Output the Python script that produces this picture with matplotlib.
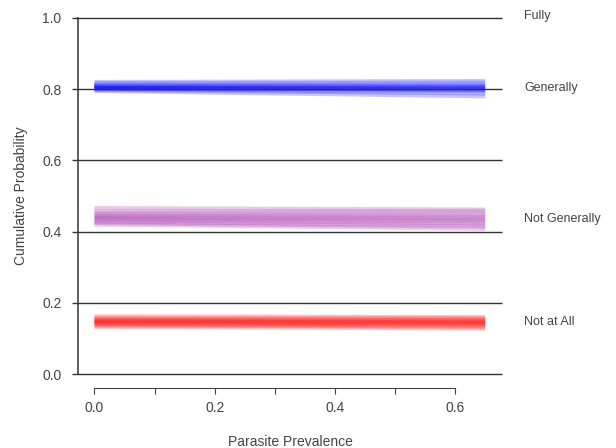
import matplotlib
matplotlib.use('Agg')
import matplotlib.pyplot as plt

plt.rcParams['font.family'] = ['Liberation Sans', 'DejaVu Sans']

# simulated posterior lines: cumulative probability at prevalence 0 and 0.65
x_range = [0.0, 0.65]
blue_start = [0.795, 0.798, 0.800, 0.802, 0.803, 0.804, 0.805, 0.806, 0.808, 0.810, 0.813, 0.817, 0.820]
blue_end = [0.780, 0.788, 0.794, 0.797, 0.799, 0.801, 0.803, 0.805, 0.807, 0.810, 0.813, 0.818, 0.823]
purple_start = [0.420, 0.424, 0.428, 0.432, 0.435, 0.438, 0.441, 0.444, 0.448, 0.452, 0.457, 0.466]
purple_end = [0.408, 0.414, 0.419, 0.424, 0.429, 0.433, 0.437, 0.441, 0.446, 0.451, 0.458, 0.462]
red_start = [0.133, 0.137, 0.140, 0.143, 0.145, 0.147, 0.149, 0.151, 0.153, 0.157, 0.162]
red_end = [0.128, 0.133, 0.137, 0.140, 0.143, 0.145, 0.147, 0.149, 0.152, 0.156, 0.160]

cut_levels = [0.0, 0.2, 0.4, 0.6, 0.8, 1.0]
category_labels = ['Fully', 'Generally', 'Not Generally', 'Not at All']
category_y = [1.005, 0.803, 0.435, 0.146]

fig = plt.figure(figsize=(6.16, 4.48), dpi=100)
ax = fig.add_axes([0.127, 0.165, 0.688, 0.795])
ax.set_xlim(-0.027, 0.678)
ax.set_ylim(0, 1)

groups = [(blue_start, blue_end, '#0000ff', 0.22),
          (purple_start, purple_end, '#a028a8', 0.24),
          (red_start, red_end, '#ff0000', 0.25)]
for starts, ends, col, a in groups:
    for s, e in zip(starts, ends):
        ax.plot(x_range, [s, e], color=col, alpha=a, lw=3, solid_capstyle='butt')

ax.hlines(cut_levels, -0.037, 0.678, color='#333333', lw=1, clip_on=False, zorder=3)

for lab, yy in zip(category_labels, category_y):
    ax.text(0.715, yy, lab, fontsize=9, color='#444444', va='center', ha='left',
            clip_on=False)

for s in ['top', 'right']:
    ax.spines[s].set_visible(False)
ax.spines['left'].set_color('#444444')
ax.spines['left'].set_linewidth(1.2)
ax.spines['bottom'].set_position(('outward', 10))
ax.spines['bottom'].set_bounds(0, 0.6)
ax.spines['bottom'].set_color('#444444')

ax.set_xticks([0, 0.1, 0.2, 0.3, 0.4, 0.5, 0.6])
ax.set_xticklabels(['0.0', '', '0.2', '', '0.4', '', '0.6'])
ax.tick_params(axis='x', length=4.5, color='#444444', labelcolor='#444444', labelsize=10, pad=5)
ax.set_yticks(cut_levels)
ax.set_yticklabels(['0.0', '0.2', '0.4', '0.6', '0.8', '1.0'])
ax.tick_params(axis='y', length=0, labelcolor='#444444', labelsize=10, pad=12)

ax.set_xlabel('Parasite Prevalence', fontsize=10, color='#444444', labelpad=14)
ax.set_ylabel('Cumulative Probability', fontsize=10, color='#444444', labelpad=10)

fig.savefig('out.png', dpi=100)
